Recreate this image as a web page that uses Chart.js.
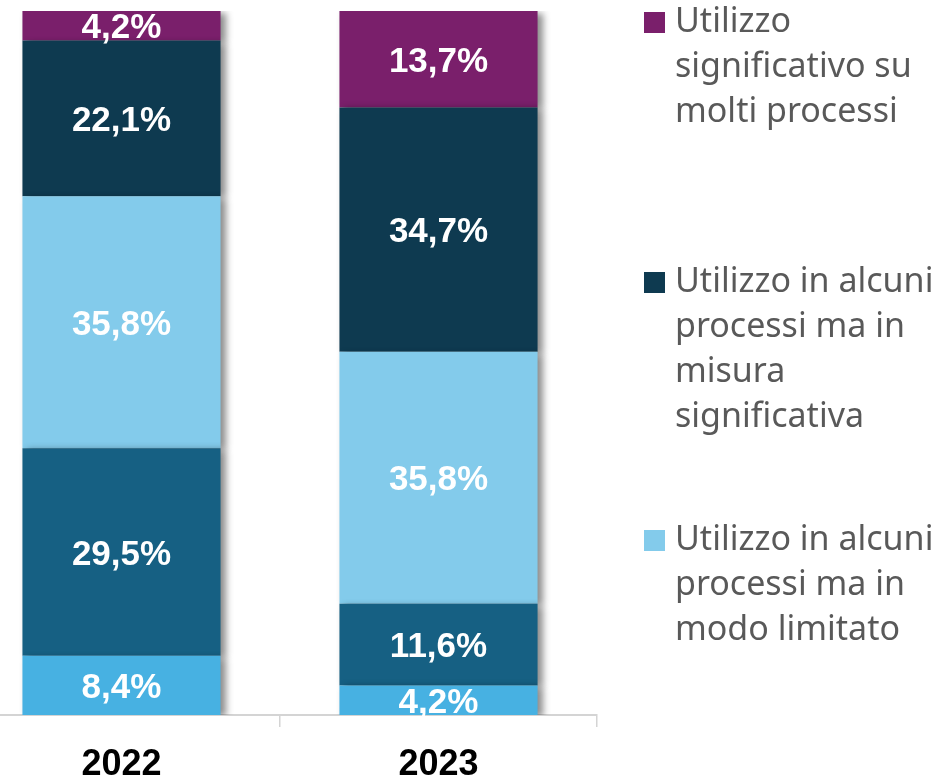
<!DOCTYPE html>
<html>
<head>
<meta charset="utf-8">
<script src="https://cdn.jsdelivr.net/npm/chart.js@4/dist/chart.umd.min.js"></script>
<style>
  html, body { margin: 0; padding: 0; background: #ffffff; overflow: hidden; width: 944px; height: 778px; }
  #wrap { position: absolute; left: -37px; top: 0; width: 981px; height: 778px; }
</style>
</head>
<body>
<div id="wrap"><canvas id="c" width="981" height="778"></canvas></div>
<script>
// ---- data ----
const categories = ['2022', '2023'];
const seriesNames = [
  'Altro livello di utilizzo A',
  'Altro livello di utilizzo B',
  'Utilizzo in alcuni processi ma in modo limitato',
  'Utilizzo in alcuni processi ma in misura significativa',
  'Utilizzo significativo su molti processi'
];
const seriesColors = ['#47b1e2', '#166083', '#83cbeb', '#0e3a50', '#7a1f6b'];
const valuesBase      = [8.4, 4.2];
const valuesLowMid    = [29.5, 11.6];
const valuesLimited   = [35.8, 35.8];
const valuesSignif    = [22.1, 34.7];
const valuesMany      = [4.2, 13.7];
const allValues = [valuesBase, valuesLowMid, valuesLimited, valuesSignif, valuesMany];

// legend entries visible in picture (top to bottom), with line breaks
const legendLines = [
  ['Utilizzo', 'significativo su', 'molti processi'],
  ['Utilizzo in alcuni', 'processi ma in', 'misura', 'significativa'],
  ['Utilizzo in alcuni', 'processi ma in', 'modo limitato']
];
const legendColors = ['#7a1f6b', '#0e3a50', '#83cbeb'];

const OFFSET = 37; // canvas is shifted left by this many px

const shadowPlugin = {
  id: 'barShadow',
  beforeDatasetsDraw(chart) {
    const ctx = chart.ctx;
    ctx.save();
    ctx.shadowColor = 'rgba(0,0,0,0.45)';
    ctx.shadowBlur = 7;
    ctx.shadowOffsetX = 5;
    ctx.shadowOffsetY = 2;
  },
  afterDatasetsDraw(chart) {
    chart.ctx.restore();
  }
};

const labelPlugin = {
  id: 'segLabels',
  afterDatasetsDraw(chart) {
    const ctx = chart.ctx;
    ctx.save();
    ctx.fillStyle = '#ffffff';
    ctx.font = 'bold 35px "Liberation Sans", Arial, sans-serif';
    ctx.textAlign = 'center';
    ctx.textBaseline = 'middle';
    chart.data.datasets.forEach((ds, di) => {
      const meta = chart.getDatasetMeta(di);
      meta.data.forEach((bar, i) => {
        const v = ds.data[i];
        const txt = v.toFixed(1).replace('.', ',') + '%';
        ctx.fillText(txt, bar.x, (bar.y + bar.base) / 2 + 3);
      });
    });
    ctx.restore();
  }
};

const legendPlugin = {
  id: 'customLegend',
  afterDraw(chart) {
    const ctx = chart.ctx;
    ctx.save();
    const baselines = [32, 292, 550];
    ctx.font = '34px "Noto Sans", sans-serif';
    ctx.textAlign = 'left';
    ctx.textBaseline = 'alphabetic';
    legendLines.forEach((lines, k) => {
      const b = baselines[k];
      ctx.fillStyle = legendColors[k];
      ctx.fillRect(644 + OFFSET, b - 20, 21, 21);
      ctx.fillStyle = '#595959';
      lines.forEach((ln, j) => {
        ctx.fillText(ln, 675 + OFFSET, b + j * 45);
      });
    });
    ctx.restore();
  }
};

new Chart(document.getElementById('c'), {
  type: 'bar',
  data: {
    labels: categories,
    datasets: allValues.map((vals, i) => ({
      label: seriesNames[i],
      data: vals,
      backgroundColor: seriesColors[i],
      borderWidth: 0,
      categoryPercentage: 1.0,
      barPercentage: 0.625
    }))
  },
  options: {
    responsive: false,
    animation: false,
    layout: { padding: { top: 11, left: 0, right: 347, bottom: 0 } },
    plugins: { legend: { display: false }, tooltip: { enabled: false } },
    scales: {
      x: {
        stacked: true,
        offset: true,
        grid: { display: true, drawOnChartArea: false, drawTicks: true, tickLength: 12, color: '#d4d4d4', lineWidth: 1.5 },
        border: { display: true, color: '#d4d4d4', width: 2 },
        ticks: { color: '#000000', font: { family: '"Liberation Sans", Arial, sans-serif', size: 36, weight: 'bold' }, padding: 16 },
        afterFit(scale) { scale.height = 63; }
      },
      y: {
        stacked: true,
        display: false,
        min: 0,
        max: 100
      }
    }
  },
  plugins: [shadowPlugin, labelPlugin, legendPlugin]
});
</script>
</body>
</html>
